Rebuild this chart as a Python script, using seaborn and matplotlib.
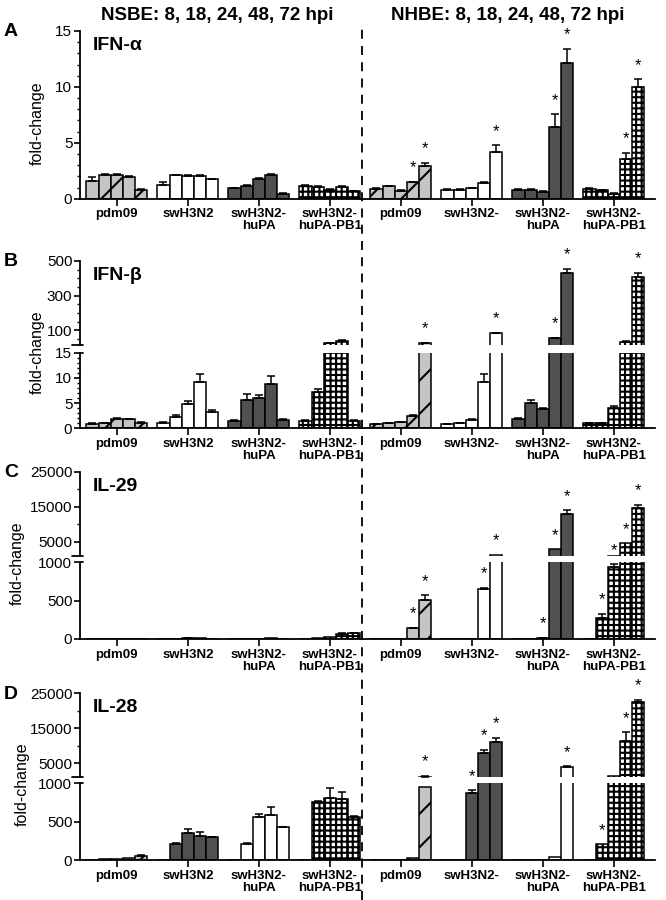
import matplotlib
matplotlib.use('Agg')
import matplotlib.pyplot as plt
import matplotlib.ticker as ticker
from matplotlib.lines import Line2D
import seaborn as sns
import numpy as np
import pandas as pd

sns.set_theme(style='ticks')
plt.rcParams['font.family'] = ['Liberation Sans', 'DejaVu Sans']
plt.rcParams['hatch.linewidth'] = 1.5
for k in ['text.color', 'axes.labelcolor', 'xtick.color', 'ytick.color', 'axes.edgecolor']:
    plt.rcParams[k] = 'black'

## 데이터
group_ids = ['nsbe_pdm09', 'nsbe_sw', 'nsbe_swpa', 'nsbe_swpapb1',
             'nhbe_pdm09', 'nhbe_sw', 'nhbe_swpa', 'nhbe_swpapb1']
group_labels = ['pdm09', 'swH3N2', 'swH3N2-\nhuPA', 'swH3N2-\nhuPA-PB1',
                'pdm09', 'swH3N2-', 'swH3N2-\nhuPA', 'swH3N2-\nhuPA-PB1']
times = ['8', '18', '24', '48', '72']

# IFN-alpha
ifna_vals = [[1.6, 2.15, 2.15, 1.95, 0.78], [1.25, 2.1, 2.05, 2.05, 1.75],
             [0.92, 1.1, 1.75, 2.1, 0.45], [1.15, 1.05, 0.8, 1.05, 0.65],
             [0.9, 1.1, 0.7, 1.45, 2.95], [0.82, 0.82, 0.95, 1.4, 4.2],
             [0.82, 0.82, 0.6, 6.4, 12.1], [0.9, 0.75, 0.45, 3.55, 9.95]]
ifna_err = [[0.3, 0.1, 0.1, 0.08, 0.05], [0.25, 0.05, 0.1, 0.05, 0.05],
            [0.05, 0.1, 0.1, 0.15, 0.05], [0.05, 0.05, 0.1, 0.1, 0.05],
            [0.05, 0.05, 0.05, 0.05, 0.25], [0.05, 0.05, 0.05, 0.05, 0.6],
            [0.05, 0.05, 0.05, 1.15, 1.3], [0.05, 0.05, 0.05, 0.55, 0.75]]
ifna_stars = [(4, 3), (4, 4), (5, 4), (6, 3), (6, 4), (7, 3), (7, 4)]

# IFN-beta
ifnb_vals = [[0.9, 1.0, 1.9, 1.8, 1.1], [1.1, 2.3, 4.8, 9.2, 3.3],
             [1.5, 5.6, 6.0, 8.8, 1.7], [1.45, 7.3, 25, 38, 1.5],
             [0.8, 1.0, 1.2, 2.45, 25], [0.8, 1.0, 1.65, 9.1, 82],
             [1.8, 5.0, 3.8, 53, 431], [1.0, 1.0, 4.0, 33, 408]]
ifnb_err = [[0.1, 0.1, 0.1, 0.1, 0.1], [0.1, 0.35, 0.7, 1.6, 0.35],
            [0.2, 1.2, 0.6, 1.6, 0.2], [0.2, 0.5, 4, 8, 0.2],
            [0.05, 0.05, 0.1, 0.2, 4], [0.05, 0.05, 0.1, 1.7, 3],
            [0.2, 0.6, 0.2, 3, 25], [0.05, 0.05, 0.5, 5, 23]]
ifnb_stars = [(4, 4), (5, 4), (6, 3), (6, 4), (7, 4)]

# IL-29
il29_vals = [[1, 2, 3, 3, 2], [2, 5, 15, 8, 3], [2, 4, 6, 8, 5], [3, 12, 25, 70, 75],
             [1, 2, 3, 139, 508], [1, 2, 5, 648, 1300],
             [1, 3, 15, 2900, 12800], [2, 274, 943, 4600, 14700]]
il29_err = [[0, 0, 0, 0, 0], [0, 0, 3, 0, 0], [0, 0, 0, 0, 0], [0, 0, 0, 5, 5],
            [0, 0, 0, 8, 65], [0, 0, 0, 20, 0],
            [0, 0, 2, 0, 1250], [0, 55, 30, 0, 900]]
il29_stars = [(4, 3), (4, 4), (5, 3), (5, 4), (6, 2), (6, 3), (6, 4),
              (7, 1), (7, 2), (7, 3), (7, 4)]

# IL-28
il28_vals = [[5, 8, 12, 20, 56], [3, 209, 348, 317, 296],
             [3, 208, 556, 583, 426], [3, 760, 813, 791, 565],
             [1, 2, 3, 26, 956], [1, 5, 878, 7860, 11200],
             [1, 2, 3, 35, 4000], [1, 204, 1500, 11400, 22400]]
il28_err = [[0, 0, 0, 0, 10], [0, 8, 60, 50, 8], [0, 8, 45, 110, 5], [0, 15, 130, 100, 10],
            [0, 0, 0, 0, 500], [0, 0, 33, 970, 1060], [0, 0, 0, 0, 150], [0, 0, 0, 2500, 700]]
il28_stars = [(4, 4), (5, 2), (5, 3), (5, 4), (6, 4), (7, 1), (7, 3), (7, 4)]

styles_main = ['hatch', 'white', 'dark', 'check'] * 2
styles_il28 = ['hatch', 'dark', 'white', 'check'] * 2
fills = {'hatch': ('#c4c4c4', '/'), 'white': ('white', ''),
         'dark': ('#505050', ''), 'check': ('white', '+++')}

W, H = 666, 900
fx = lambda x: x / W
fy = lambda y: 1 - y / H
X0, X1 = 80, 655
xlim = (-0.52, 7.58)


def make_frame(vals):
    rows = []
    for gid, gv in zip(group_ids, vals):
        for t, v in zip(times, gv):
            rows.append({'group': gid, 'time': t, 'value': v})
    return pd.DataFrame(rows)


def draw_bars(ax, df, styles):
    sns.barplot(data=df, x='group', y='value', hue='time', order=group_ids, hue_order=times,
                palette={t: 'white' for t in times}, width=0.86, errorbar=None, legend=False,
                edgecolor='black', linewidth=1.1, ax=ax)
    centers = {}
    for cont in ax.containers:
        for bar in cont:
            xc = bar.get_x() + bar.get_width() / 2
            gi = int(round(xc))
            ti = int(round((xc - gi + 0.43 - 0.086) / 0.172))
            fc, hatch = fills[styles[gi]]
            bar.set_facecolor(fc)
            bar.set_hatch(hatch)
            centers[(gi, ti)] = xc
    ax.set_xlim(*xlim)
    ax.set_xlabel('')
    ax.set_ylabel('')
    return centers


def draw_errors(ax, centers, vals, errs):
    # 에러바 캡이 이 축 범위 안에 있는 것만 그림
    lo, hi = ax.get_ylim()
    xs, hs, es = [], [], []
    for (gi, ti), xc in centers.items():
        e = errs[gi][ti]
        top = vals[gi][ti] + e
        if e > 0 and lo < top <= hi:
            xs.append(xc); hs.append(vals[gi][ti]); es.append(e)
    if xs:
        ax.errorbar(xs, hs, yerr=[np.zeros(len(es)), es], fmt='none', ecolor='black',
                    elinewidth=1.1, capsize=3, capthick=1.1)


def style_axis(ax, show_x):
    sns.despine(ax=ax)
    ax.spines['left'].set_linewidth(1.3)
    ax.tick_params(axis='y', which='major', length=4, width=1.2, labelsize=11, pad=1.5)
    ax.tick_params(axis='y', which='minor', length=2.5, width=1.0)
    if show_x:
        ax.spines['bottom'].set_linewidth(1.3)
        ax.set_xticks(range(len(group_ids)))
        ax.set_xticklabels(group_labels, fontweight='bold', fontsize=9.5, linespacing=1.0)
        ax.tick_params(axis='x', length=5, width=1.2, pad=2)
    else:
        ax.spines['bottom'].set_visible(False)
        ax.set_xticks([])


def star(ax, x, top):
    ax.annotate('*', xy=(x, top), xytext=(0, 10), textcoords='offset points',
                ha='center', va='center', fontsize=12, annotation_clip=False)


fig = plt.figure(figsize=(6.66, 9.0), dpi=100)

panels = [
    dict(letter='A', name='IFN-α', vals=ifna_vals, errs=ifna_err, stars=ifna_stars, styles=styles_main,
         top=31, bottom=198.7, broken=None, ylab_x=37),
    dict(letter='B', name='IFN-β', vals=ifnb_vals, errs=ifnb_err, stars=ifnb_stars, styles=styles_main,
         top=261, bottom=428.3, broken=dict(split=(345, 352.7), hi=(15, 500), lo=(0, 15),
                                            hi_ticks=[100, 300, 500], hi_minor=50,
                                            lo_ticks=[0, 5, 10, 15], lo_minor=1), ylab_x=37),
    dict(letter='C', name='IL-29', vals=il29_vals, errs=il29_err, stars=il29_stars, styles=styles_main,
         top=471.7, bottom=639, broken=dict(split=(555.7, 562.3), hi=(1000, 25000), lo=(0, 1000),
                                            hi_ticks=[5000, 15000, 25000], hi_minor=5000,
                                            lo_ticks=[0, 500, 1000], lo_minor=None), ylab_x=17),
    dict(letter='D', name='IL-28', vals=il28_vals, errs=il28_err, stars=il28_stars, styles=styles_il28,
         top=693.3, bottom=860, broken=dict(split=(777.3, 783.3), hi=(1000, 25000), lo=(0, 1000),
                                            hi_ticks=[5000, 15000, 25000], hi_minor=5000,
                                            lo_ticks=[0, 500, 1000], lo_minor=None), ylab_x=22),
]

first_ax = None
for p in panels:
    df = make_frame(p['vals'])
    br = p['broken']
    if br is None:
        ax = fig.add_axes([fx(X0), fy(p['bottom']), fx(X1) - fx(X0), (p['bottom'] - p['top']) / H])
        centers = draw_bars(ax, df, p['styles'])
        ax.set_ylim(0, 15)
        ax.set_yticks([0, 5, 10, 15])
        ax.yaxis.set_minor_locator(ticker.MultipleLocator(1))
        style_axis(ax, True)
        draw_errors(ax, centers, p['vals'], p['errs'])
        for gi, ti in p['stars']:
            star(ax, centers[(gi, ti)], p['vals'][gi][ti] + p['errs'][gi][ti])
        first_ax = ax
    else:
        s0, s1 = br['split']
        ax_hi = fig.add_axes([fx(X0), fy(s0), fx(X1) - fx(X0), (s0 - p['top']) / H])
        ax_lo = fig.add_axes([fx(X0), fy(p['bottom']), fx(X1) - fx(X0), (p['bottom'] - s1) / H])
        for a in (ax_hi, ax_lo):
            centers = draw_bars(a, df, p['styles'])
        ax_hi.set_ylim(*br['hi'])
        ax_lo.set_ylim(*br['lo'])
        ax_hi.set_yticks(br['hi_ticks'])
        ax_lo.set_yticks(br['lo_ticks'])
        ax_hi.yaxis.set_minor_locator(ticker.MultipleLocator(br['hi_minor']))
        if br['lo_minor']:
            ax_lo.yaxis.set_minor_locator(ticker.MultipleLocator(br['lo_minor']))
        style_axis(ax_hi, False)
        style_axis(ax_lo, True)
        for a in (ax_hi, ax_lo):
            draw_errors(a, centers, p['vals'], p['errs'])
        # 축 끊김 표시
        ax_hi.plot([-0.014, 0.006], [0, 0], transform=ax_hi.transAxes, color='black', lw=1.3, clip_on=False)
        ax_lo.plot([0, 0.006], [1, 1], transform=ax_lo.transAxes, color='black', lw=1.3, clip_on=False)
        for gi, ti in p['stars']:
            top = p['vals'][gi][ti] + p['errs'][gi][ti]
            a = ax_hi if top > br['hi'][0] else ax_lo
            star(a, centers[(gi, ti)], top)
    fig.text(fx(11), fy(p['top'] + 1), p['letter'], fontsize=14, fontweight='bold', ha='center', va='center')
    fig.text(fx(93), fy(p['top'] + 6), p['name'], fontsize=14, fontweight='bold', ha='left', va='top')
    fig.text(fx(p['ylab_x']), fy((p['top'] + p['bottom']) / 2 + 8), 'fold-change', fontsize=11.5,
             rotation=90, ha='center', va='center')

# 헤더
fig.text(fx(217), fy(15), 'NSBE: 8, 18, 24, 48, 72 hpi', fontsize=13.5, fontweight='bold', ha='center', va='center')
fig.text(fx(508), fy(15), 'NHBE: 8, 18, 24, 48, 72 hpi', fontsize=13.5, fontweight='bold', ha='center', va='center')

# 구분 점선
xd = fig.transFigure.inverted().transform(first_ax.transData.transform((3.45, 0)))[0]
fig.add_artist(Line2D([xd, xd], [0, fy(24)], transform=fig.transFigure, color='black',
                      lw=1.3, ls=(0, (5, 4))))

plt.savefig('out.png', dpi=100)
